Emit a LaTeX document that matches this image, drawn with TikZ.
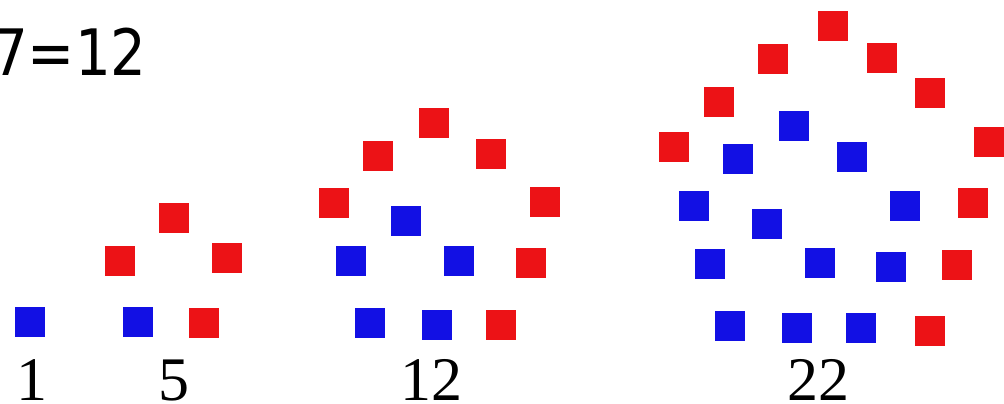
\documentclass[tikz,border=0pt]{standalone}
\usepackage{fontspec}
\setmainfont{Liberation Serif}
\newfontfamily\topfont{DejaVu Sans}
\definecolor{sqred}{RGB}{236,18,22}
\definecolor{sqblue}{RGB}{18,16,228}
\begin{document}
\begin{tikzpicture}[x=1pt,y=-1pt,
  sq/.style={minimum size=30.5pt,inner sep=0pt,outer sep=0pt,draw=none},
  rs/.style={sq,fill=sqred},
  bs/.style={sq,fill=sqblue},
  lbl/.style={anchor=base,inner sep=0pt,font=\fontsize{62}{62}\selectfont}]
\useasboundingbox (0,0) rectangle (1004,404);
\clip (0,0) rectangle (1004,404);
% top text
\node[anchor=base east,inner sep=0pt] (eq) at (147,75) {\scalebox{0.88}[1]{\topfont\fontsize{64}{64}\selectfont 7=12}};
% figure 1
\node[bs] (a1) at (30,322) {};
\node[lbl] (l1) at (32,400) {1};
% figure 5
\node[bs] (b1) at (138,322) {};
\node[rs] (b2) at (204,323) {};
\node[rs] (b3) at (120,261) {};
\node[rs] (b4) at (174,218) {};
\node[rs] (b5) at (227,258) {};
\node[lbl] (l5) at (174,400) {5};
% figure 12
\node[rs] (c1) at (434,123) {};
\node[rs] (c2) at (378,156) {};
\node[rs] (c3) at (491,154) {};
\node[rs] (c4) at (334,203) {};
\node[rs] (c5) at (545,202) {};
\node[bs] (c6) at (406,221) {};
\node[bs] (c7) at (351,261) {};
\node[bs] (c8) at (459,261) {};
\node[rs] (c9) at (531,263) {};
\node[bs] (c10) at (370,323) {};
\node[bs] (c11) at (437,325) {};
\node[rs] (c12) at (501,325) {};
\node[lbl] (l12) at (431,400) {12};
% figure 22
\node[rs] (d1) at (833,26) {};
\node[rs] (d2) at (773,59) {};
\node[rs] (d3) at (882,58) {};
\node[rs] (d4) at (719,102) {};
\node[rs] (d5) at (930,93) {};
\node[rs] (d6) at (674,147) {};
\node[rs] (d7) at (989,142) {};
\node[bs] (d8) at (794,126) {};
\node[bs] (d9) at (738,159) {};
\node[bs] (d10) at (852,157) {};
\node[bs] (d11) at (694,206) {};
\node[bs] (d12) at (767,224) {};
\node[bs] (d13) at (905,206) {};
\node[rs] (d14) at (973,203) {};
\node[bs] (d15) at (710,264) {};
\node[bs] (d16) at (820,263) {};
\node[bs] (d17) at (891,267) {};
\node[rs] (d18) at (957,265) {};
\node[bs] (d19) at (730,326) {};
\node[bs] (d20) at (797,328) {};
\node[bs] (d21) at (861,328) {};
\node[rs] (d22) at (930,331) {};
\node[lbl] (l22) at (818,400) {22};
\end{tikzpicture}
\end{document}
